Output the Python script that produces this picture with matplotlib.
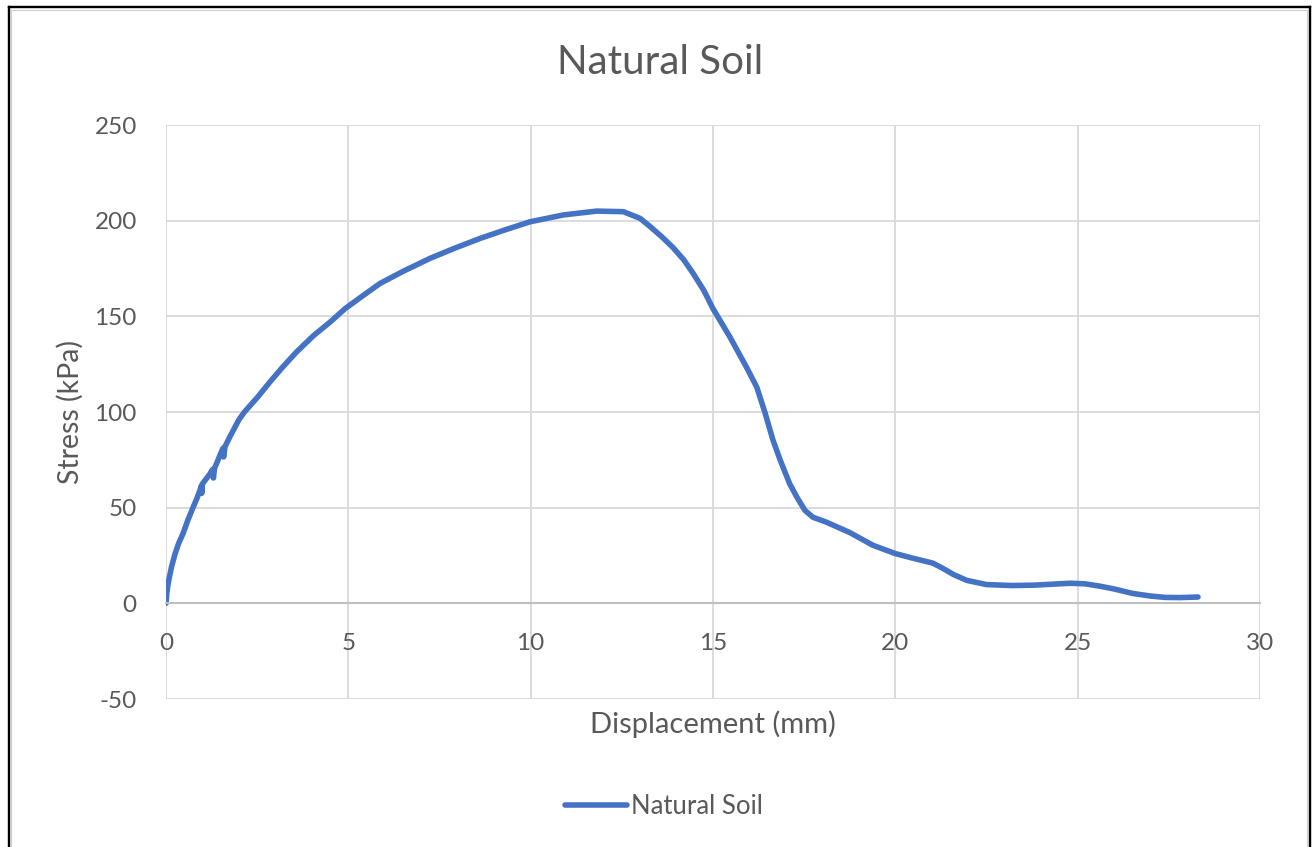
import matplotlib.pyplot as plt
from matplotlib.lines import Line2D

# Direct shear test, natural soil sample
displacement = [0, 0.02, 0.06, 0.15, 0.25, 0.35, 0.47, 0.6, 0.74, 0.85, 0.93, 0.97, 0.98, 1.0,
                1.1, 1.2, 1.28, 1.3, 1.33, 1.45, 1.56, 1.58, 1.62, 1.75, 2.0, 2.15, 2.5,
                2.85, 3.2, 3.58, 4.05, 4.5, 4.91, 5.4, 5.87, 6.5, 7.24, 7.9, 8.61, 9.3,
                9.98, 10.9, 11.81, 12.54, 13.0, 13.27, 13.6, 13.9, 14.2, 14.45, 14.75,
                15.0, 15.47, 15.93, 16.2, 16.42, 16.65, 16.84, 17.1, 17.3, 17.52, 17.74,
                18.1, 18.75, 19.39, 20.0, 20.5, 21.03, 21.3, 21.6, 21.96, 22.5, 23.2,
                23.8, 24.3, 24.8, 25.2, 25.6, 26.0, 26.5, 27.0, 27.4, 27.8, 28.3]
stress = [0, 5, 10.5, 19, 26, 31.5, 36.6, 43.5, 50, 55, 59, 61.5, 57.5, 62.5,
          65, 67.5, 70, 65.5, 70.5, 76, 81, 76.5, 82, 87, 96, 100, 107.5,
          115.7, 123.5, 131.4, 140, 147, 154, 160.8, 167.2, 173.5, 180.3, 185.5, 190.7, 195.2,
          199.4, 203, 205, 204.7, 201.2, 197, 191.5, 186, 179.5, 172.6, 163.5,
          154, 139, 123, 113, 100, 85, 75, 62.6, 55.5, 48.6, 45,
          42.5, 37, 30.3, 26, 23.5, 21, 18.3, 15, 12, 9.8, 9.3,
          9.5, 10, 10.5, 10.2, 9, 7.5, 5.2, 3.8, 3.1, 3.0, 3.3]

x_ticks = [0, 5, 10, 15, 20, 25, 30]
y_ticks = [-50, 0, 50, 100, 150, 200, 250]

plt.rcParams['font.family'] = ['Lato', 'DejaVu Sans']
plt.rcParams['axes.unicode_minus'] = False
text_color = '#595959'
line_color = '#4472C4'
grid_color = '#D9D9D9'

W, H = 1315, 847
fig = plt.figure(figsize=(W / 100, H / 100), dpi=100)
ax = fig.add_axes([166 / W, 1 - 699 / H, (1260 - 166) / W, (699 - 125) / H])

ax.plot(displacement, stress, color=line_color, linewidth=4.0,
        solid_capstyle='round', solid_joinstyle='round', label='Natural Soil')

ax.set_xlim(0, 30)
ax.set_ylim(-50, 250)
ax.set_xticks(x_ticks)
ax.set_yticks(y_ticks)
ax.grid(True, color=grid_color, linewidth=1.3)
ax.set_axisbelow(True)

for side in ['top', 'right', 'left']:
    ax.spines[side].set_visible(False)
ax.spines['bottom'].set_position(('data', 0))
ax.spines['bottom'].set_color('#BFBFBF')
ax.spines['bottom'].set_linewidth(1.5)

ax.tick_params(axis='both', length=0, labelsize=17.5, colors=text_color)
ax.tick_params(axis='x', pad=21)
ax.tick_params(axis='y', pad=21)

ax.set_xlabel('Displacement (mm)', fontsize=21, color=text_color, va='center')
ax.xaxis.set_label_coords(0.5, -25 / 574)
ax.set_ylabel('Stress (kPa)', fontsize=20.5, color=text_color, va='center')
ax.yaxis.set_label_coords(-96 / 1094, 0.5)

fig.text(0.502, 1 - 62 / H, 'Natural Soil', ha='center', va='center',
         fontsize=29, color=text_color)

fig.legend(loc='center', bbox_to_anchor=(0.505, 1 - 806 / H), frameon=False,
           fontsize=18.5, handlelength=2.4, handletextpad=0.15,
           labelcolor=text_color)

# outer chart frame
for xs, ys, c, lw in [
    ([8.5, 1310], [7.5, 7.5], 'black', 2.4),
    ([1310, 1310], [7.5, H], 'black', 2.4),
    ([8.5, 8.5], [7.5, H], 'black', 2.4),
    ([11, 11], [10, H], '#D0D0D0', 1.2),
    ([11, 1307], [10, 10], '#D0D0D0', 1.2),
    ([1307, 1307], [10, H], '#D0D0D0', 1.2),
]:
    fig.add_artist(Line2D([x / W for x in xs], [1 - y / H for y in ys],
                          color=c, linewidth=lw * 0.72, transform=fig.transFigure))

fig.savefig('out.png', dpi=100)
